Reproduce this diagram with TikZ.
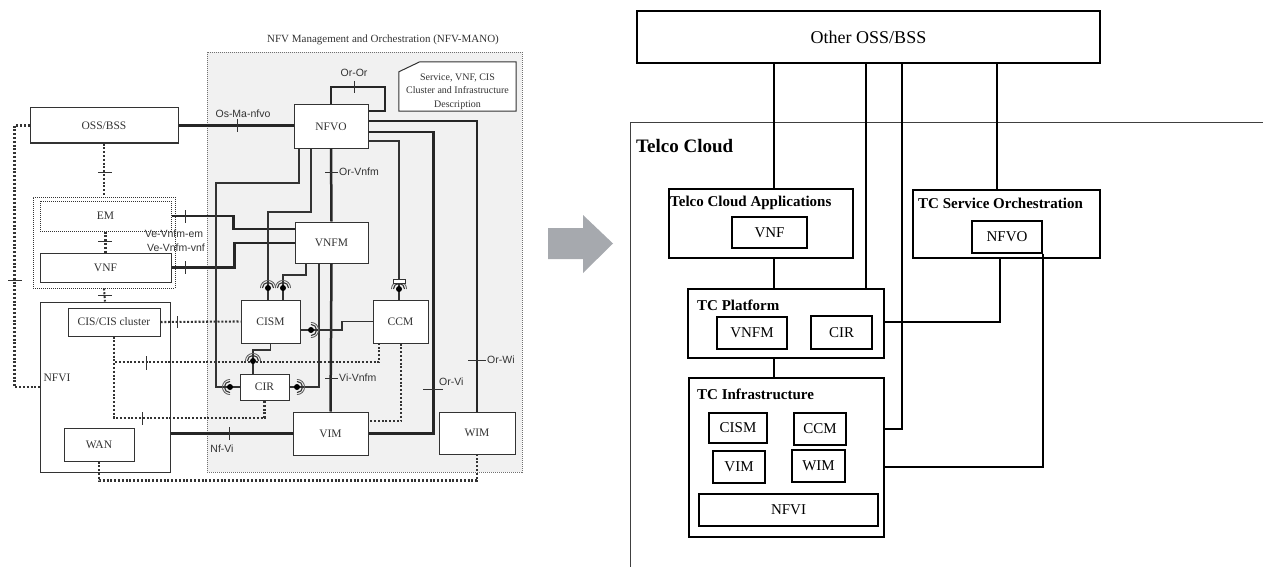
\documentclass[tikz,border=0pt]{standalone}
\usepackage{fontspec}
\setmainfont{Liberation Serif}
\setsansfont{Liberation Sans}
\usepackage{tikz}
\tikzset{>=latex}
\definecolor{manogray}{HTML}{F1F1F1}
\definecolor{arrowgray}{HTML}{A6A9AE}
\definecolor{ink}{HTML}{333333}
\tikzset{
  lbox/.style={draw=ink, fill=white, line width=1pt, inner sep=0pt, text=ink,
    font=\fontsize{11.5}{13}\selectfont},
  lref/.style={line width=2.5pt, black!85},
  lif/.style={line width=1.1pt, ink},
  ldot/.style={line width=2.1pt, ink, dash pattern=on 2pt off 1.8pt},
  ltick/.style={line width=1pt, ink},
  rplab/.style={font=\sffamily\fontsize{10.5}{12}\selectfont, text=ink, inner sep=1pt},
  rbox/.style={draw, line width=1.1pt, inner sep=0pt, font=\fontsize{15}{17}\selectfont},
  rttl/.style={anchor=west, inner sep=0pt, font=\bfseries\fontsize{15}{17}\selectfont},
  rline/.style={line width=1.6pt}
}
% ball and socket on an interface
\newcommand{\sockt}[2]{%
  \fill[black] (#1) circle[radius=3pt];
  \draw[ink, line width=1.1pt] (#1) ++(#2-90:5.6pt) arc[start angle=#2-90, end angle=#2+90, radius=5.6pt];
  \draw[ink!80, line width=0.8pt] (#1) ++(#2-90:7.6pt) arc[start angle=#2-90, end angle=#2+90, radius=7.6pt];
}

\begin{document}
\begin{tikzpicture}[x=1pt, y=-1pt]
  \useasboundingbox (0,0) rectangle (1263,567);

  % NFV-MANO
  \node[draw=ink!70, fill=manogray, line width=0.9pt, dash pattern=on 1pt off 1pt,
    minimum width=315, minimum height=420] (mano) at (364.5,262) {};
  \node[font=\fontsize{11}{13}\selectfont, text=ink] (manottl) at (383,40)
    {NFV Management and Orchestration (NFV-MANO)};

  % Nodes
  \node[lbox, minimum width=148, minimum height=35] (oss)   at (104,125.5) {OSS/BSS};
  \node[draw=ink, line width=0.9pt, dash pattern=on 1pt off 1pt,
    minimum width=142, minimum height=91]           (emvnf) at (104,242.5) {};
  \node[lbox, dash pattern=on 1pt off 1pt,
    minimum width=131, minimum height=30]           (em)    at (105.5,216) {EM};
  \node[lbox, minimum width=131, minimum height=29] (vnf)   at (105.5,267.5) {VNF};
  \node[lbox, minimum width=130, minimum height=170] (nfvi) at (105,387) {};
  \node[text=ink, font=\fontsize{11.5}{13}\selectfont] (nfvilbl) at (57,378) {NFVI};
  \node[lbox, minimum width=92, minimum height=28]  (cis)   at (114,322) {CIS/CIS cluster};
  \node[lbox, minimum width=70, minimum height=33]  (wan)   at (99,444.5) {WAN};

  \node[lbox, minimum width=74, minimum height=43]  (nfvo)  at (331,126.5) {NFVO};
  \node[lbox, minimum width=73, minimum height=41]  (vnfm)  at (331.5,242.5) {VNFM};
  \node[lbox, minimum width=59, minimum height=43]  (cism)  at (270.5,321.5) {CISM};
  \node[lbox, minimum width=55, minimum height=43]  (ccm)   at (400.5,321.5) {CCM};
  \node[lbox, minimum width=49, minimum height=26]  (cir)   at (264.5,387) {CIR};
  \node[lbox, minimum width=75, minimum height=43]  (vim)   at (330.5,433.5) {VIM};
  \node[lbox, minimum width=76, minimum height=42]  (wim)   at (477,433) {WIM};

  \node[minimum width=117, minimum height=49, inner sep=0pt] (desc) at (457.5,86.5) {};
  \draw[ink, line width=1pt, fill=white] ([yshift=-10pt]desc.north west) -- ([xshift=21pt]desc.north west)
    -- (desc.north east) -- (desc.south east) -- (desc.south west) -- cycle;
  \node[align=center, text=ink, font=\fontsize{10}{13.5}\selectfont, yshift=-5pt] (desctxt) at (desc)
    {Service, VNF, CIS\\Cluster and Infrastructure\\Description};

  % Reference points
  \draw[lref] (oss.east) -- (oss.east -| nfvo.west);
  \draw[lref] (nfvo.north) |- (385,87) |- (nfvo.east |- 0,111);
  \draw[lref] (nfvo.south) -- (vnfm.north);
  \draw[lref] (vnfm.south) -- (vim.north);
  \draw[lref] (nfvo.east |- 0,132) -- ++(65,0) |- (vim.east);
  \draw[lref] (nfvo.east |- 0,121) -| (wim.north);
  \draw[lref] (em.east) -- ++(62,0) |- (vnfm.west |- 0,229);
  \draw[lref] (vnf.east) -- ++(63,0) |- (vnfm.west |- 0,243);
  \draw[lref] (vim.west -| nfvi.east) -- (vim.west);

  % Interfaces
  \draw[lif] (nfvo.south -| 299,0) |- (216,183) |- (cir.west);
  \draw[lif] (nfvo.south -| 311,0) |- (268,212) -- (cism.north -| 268,0);
  \draw[lif] (vnfm.south -| 306,0) |- (283,275) -- (cism.north -| 283,0);
  \draw[lif] (vnfm.south -| 319,0) |- (cir.east);
  \draw[lif] (ccm.west) -| (342,330) -- (cism.east |- 0,330);
  \draw[lif] (cism.south) |- (253,350) -- (cir.north -| 253,0);
  \draw[lif] (nfvo.east |- 0,141) -| (ccm.north -| 399,0);

  % Dotted links
  \draw[ldot] (oss.south) -- (emvnf.north);
  \draw[ldot] (em.south) -- (vnf.north);
  \draw[ldot] (emvnf.south) -- (nfvi.north);
  \draw[ldot] (oss.west) -- ++(-15,0) |- (nfvi.west);
  \draw[ldot] (cis.east) -- (cism.west);
  \draw[ldot] (cis.south) |- (379,362) -- (ccm.south -| 379,0);
  \draw[ldot] (cis.south) |- (cir.south |- 0,418) -- (cir.south);
  \draw[ldot] (ccm.south -| 401,0) |- (vim.east |- 0,421);
  \draw[ldot] (wan.south) -- ++(0,19) -| (wim.south);

  % Sockets
  \sockt{268,288}{90}
  \sockt{283,288}{90}
  \sockt{311,330}{0}
  \sockt{253,361}{90}
  \sockt{230,387}{180}
  \sockt{297,387}{0}
  \sockt{399,289}{90}
  \draw[ink, line width=1pt, fill=white] (393,279) rectangle (405,283);

  % Ticks and labels
  \draw[ltick] (237,119) -- (237,132);
  \node[rplab] (osmalbl) at (243,114) {Os-Ma-nfvo};
  \draw[ltick] (354,81) -- (354,93);
  \node[rplab] (ororlbl) at (354,73) {Or-Or};
  \draw[ltick] (325,172) -- (338,172);
  \node[rplab, anchor=west] (orvnfmlbl) at (338,172) {Or-Vnfm};
  \draw[ltick] (325,378) -- (338,378);
  \node[rplab, anchor=west] (vivnfmlbl) at (338,378) {Vi-Vnfm};
  \draw[ltick] (423,389) -- (443,389);
  \node[rplab, anchor=west] (orvilbl) at (438,382) {Or-Vi};
  \draw[ltick] (468,360) -- (486,360);
  \node[rplab, anchor=west] (orwilbl) at (486,360) {Or-Wi};
  \draw[ltick] (229,427) -- (229,440);
  \node[rplab] (nfvilbl2) at (222,449) {Nf-Vi};
  \draw[ltick] (185,210) -- (185,223);
  \draw[ltick] (185,261) -- (185,274);
  \node[rplab] (vemlbl) at (174,234) {Ve-Vnfm-em};
  \node[rplab] (vvnflbl) at (176,248) {Ve-Vnfm-vnf};
  \draw[ltick] (98,172) -- (112,172);
  \draw[ltick] (98,241) -- (112,241);
  \draw[ltick] (98,295) -- (112,295);
  \draw[ltick] (8,280) -- (22,280);
  \draw[ltick] (177,316) -- (177,328);
  \draw[ltick] (146,356) -- (146,370);
  \draw[ltick] (142,412) -- (142,425);

  % Arrow
  \fill[arrowgray] (548,228) -- (583,228) -- (583,215) -- (613,243.5) -- (583,273)
    -- (583,259) -- (548,259) -- cycle;

  % Telco Cloud
  \node[rbox, minimum width=463, minimum height=52, font=\fontsize{18}{20}\selectfont]
    (other) at (868.5,37) {Other OSS/BSS};
  \draw[line width=1pt, black!75] (1263,123) -- (630,123) -- (630,567);
  \node[rttl, font=\bfseries\fontsize{19}{21}\selectfont] (tclbl) at (636,146) {Telco Cloud};

  \node[rbox, minimum width=184, minimum height=69] (tca)  at (761,223.5) {};
  \node[rttl] (tcalbl) at (670,203) {Telco Cloud Applications};
  \node[rbox, minimum width=75, minimum height=31]  (vnf2) at (769.5,232.5) {VNF};

  \node[rbox, minimum width=187, minimum height=68] (tcso) at (1006.5,224) {};
  \node[rttl] (tcsolbl) at (918,203) {TC Service Orchestration};
  \node[rbox, minimum width=70, minimum height=32]  (nfvo2) at (1007,237) {NFVO};

  \node[rbox, minimum width=196, minimum height=69] (tcp)  at (786,323.5) {};
  \node[rttl] (tcplbl) at (697,305) {TC Platform};
  \node[rbox, minimum width=70, minimum height=32]  (vnfm2) at (752,333) {VNFM};
  \node[rbox, minimum width=61, minimum height=33]  (cir2)  at (841.5,332.5) {CIR};

  \node[rbox, minimum width=195, minimum height=159] (tci) at (786.5,457.5) {};
  \node[rttl] (tcilbl) at (697,394) {TC Infrastructure};
  \node[rbox, minimum width=58, minimum height=30]  (cism2) at (738,428) {CISM};
  \node[rbox, minimum width=52, minimum height=32]  (ccm2)  at (820,429) {CCM};
  \node[rbox, minimum width=52, minimum height=32]  (vim2)  at (739,467) {VIM};
  \node[rbox, minimum width=53, minimum height=32]  (wim2)  at (818.5,466) {WIM};
  \node[rbox, minimum width=179, minimum height=32] (nfvi2) at (788.5,510) {NFVI};

  % Edges
  \draw[rline] (other.south -| 774,0) -- (tca.north -| 774,0);
  \draw[rline] (tca.south -| 774,0) -- (tcp.north -| 774,0);
  \draw[rline] (tcp.south -| 774,0) -- (tci.north -| 774,0);
  \draw[rline] (other.south -| 866,0) -- (tcp.north -| 866,0);
  \draw[rline] (other.south -| 902,0) |- (tci.east |- 0,429);
  \draw[rline] (other.south -| 997,0) -- (tcso.north -| 997,0);
  \draw[rline] (tcso.south -| 1000,0) |- (tcp.east |- 0,322);
  \draw[rline] (nfvo2.south -| 1043,0) |- (tci.east |- 0,467);
\end{tikzpicture}
\end{document}
